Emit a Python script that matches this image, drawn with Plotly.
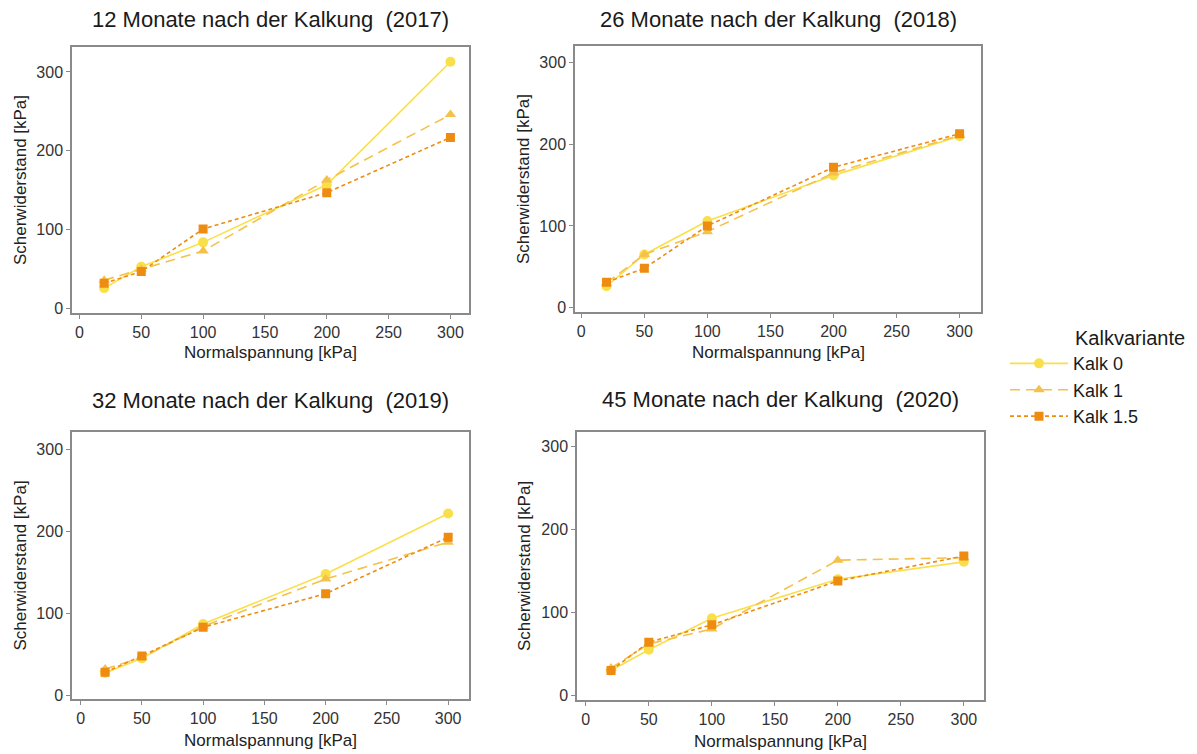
import plotly.graph_objects as go

x_vals = [20, 50, 100, 200, 300]
series_names = ["Kalk 0", "Kalk 1", "Kalk 1.5"]

panel_titles = [
    "12 Monate nach der Kalkung  (2017)",
    "26 Monate nach der Kalkung  (2018)",
    "32 Monate nach der Kalkung  (2019)",
    "45 Monate nach der Kalkung  (2020)",
]

# values per panel: [Kalk 0, Kalk 1, Kalk 1.5]
data_2017 = [[26, 53, 84, 157, 313], [36, 50, 73, 163, 246], [32, 47, 101, 147, 217]]
data_2018 = [[26, 65, 106, 162, 210], [30, 65, 93, 165, 211], [31, 48, 100, 172, 213]]
data_2019 = [[27, 45, 87, 148, 222], [32, 46, 84, 142, 187], [28, 48, 83, 124, 193]]
data_2020 = [[30, 55, 93, 140, 161], [33, 62, 80, 163, 166], [30, 64, 85, 138, 168]]
panels_data = [data_2017, data_2018, data_2019, data_2020]

x_ticks = [0, 50, 100, 150, 200, 250, 300]
y_ticks = [0, 100, 200, 300]

colors = ["#F9E04A", "#F4C14A", "#EE8C12"]
symbols = ["circle", "triangle-up", "square"]
msizes = [10, 10, 9]
dashes = ["solid", "10px,6px", "4px,3px"]

W, H = 1197, 754
# panel pixel boxes: (left, right, top, bottom)
boxes = [(72, 469, 47, 315), (575, 981, 46, 314), (72, 469, 434, 703), (577, 984, 434, 704)]
yranges = [[-6, 332], [-6, 321], [-5, 322], [-6, 318]]
xranges = [[-6, 315], [-5, 317], [-7, 317], [-7, 316]]
title_off = [27, 26, 31, 32]
xtitle_off = [39, 40, 41, 41]

fig = go.Figure()
annotations = []
for i, (box, pdata) in enumerate(zip(boxes, panels_data)):
    l, r, t, b = box
    ax = "" if i == 0 else str(i + 1)
    for k in range(3):
        fig.add_trace(go.Scatter(
            x=x_vals, y=pdata[k], mode="lines+markers", name=series_names[k],
            xaxis="x" + ax, yaxis="y" + ax, showlegend=(i == 0),
            line=dict(color=colors[k], width=1.6, dash=dashes[k]),
            marker=dict(color=colors[k], symbol=symbols[k], size=msizes[k]),
        ))
    axis_common = dict(showline=True, mirror=True, linecolor="#8a8a8a", linewidth=1.5,
                       ticks="outside", ticklen=4, tickcolor="#8a8a8a", showgrid=False,
                       zeroline=False, tickfont=dict(size=16, color="#333333"))
    fig.update_layout(**{
        "xaxis" + ax: dict(domain=[l / W, r / W], anchor="y" + ax, range=xranges[i],
                           tickvals=x_ticks, **axis_common),
        "yaxis" + ax: dict(domain=[(H - b) / H, (H - t) / H], anchor="x" + ax, range=yranges[i],
                           tickvals=y_ticks, **axis_common),
    })
    cx = (l + r) / 2
    annotations.append(dict(text=panel_titles[i], x=cx / W, y=(H - (t - title_off[i])) / H,
                            xref="paper", yref="paper",
                            showarrow=False, font=dict(size=22, color="#1a1a1a"),
                            xanchor="center", yanchor="middle"))
    annotations.append(dict(text="Normalspannung [kPa]", x=cx / W, y=(H - (b + xtitle_off[i])) / H,
                            xref="paper", yref="paper",
                            showarrow=False, font=dict(size=17, color="#222222"),
                            xanchor="center", yanchor="middle"))
    annotations.append(dict(text="Scherwiderstand [kPa]", x=(l - 52) / W, y=(H - (t + b) / 2) / H,
                            xref="paper", yref="paper", textangle=-90,
                            showarrow=False, font=dict(size=17, color="#222222"),
                            xanchor="center", yanchor="middle"))

annotations.append(dict(text="Kalkvariante", x=1073 / W, y=(H - 340) / H, xref="paper", yref="paper",
                        showarrow=False, font=dict(size=20, color="#1a1a1a"),
                        xanchor="left", yanchor="middle"))

fig.update_layout(
    width=W, height=H, margin=dict(l=0, r=0, t=0, b=0),
    paper_bgcolor="white", plot_bgcolor="white",
    font=dict(family="Liberation Sans, Arial, sans-serif"),
    annotations=annotations,
    legend=dict(x=1005 / W, y=(H - 347) / H, xanchor="left", yanchor="top",
                font=dict(size=18, color="#1a1a1a"), itemwidth=58, tracegroupgap=0,
                bgcolor="rgba(0,0,0,0)"),
)

fig.write_html("out.html")
